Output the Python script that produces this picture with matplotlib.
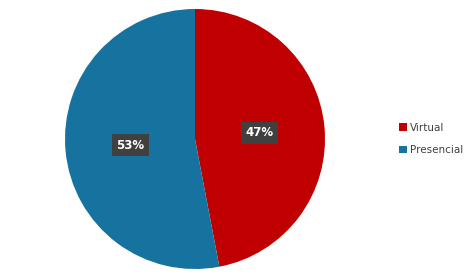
import matplotlib
matplotlib.use("Agg")
import matplotlib.pyplot as plt
from matplotlib.patches import Patch

categories = ["Virtual", "Presencial"]
values = [47, 53]
colors = ["#C00000", "#16729E"]

fig = plt.figure(figsize=(4.69, 2.78), dpi=100)
ax = fig.add_axes([65/469, 9/278, 260/469, 260/278])
wedges, texts = ax.pie(values, colors=colors, startangle=90, counterclock=False,
                       labels=[f"{v}%" for v in values], labeldistance=0.5,
                       wedgeprops=dict(linewidth=0))
for t in texts:
    t.set_color("white")
    t.set_fontsize(8.5)
    t.set_fontweight("bold")
    t.set_ha("center")
    t.set_va("center")
    t.set_bbox(dict(boxstyle="square,pad=0.4", fc="#404040", ec="none"))
ax.set_xlim(-1, 1)
ax.set_ylim(-1, 1)
ax.set_aspect("equal")

handles = [Patch(facecolor=c, edgecolor="none") for c in colors]
leg = fig.legend(handles, categories, loc="center left", bbox_to_anchor=(390/469, 1-139/278),
                 frameon=False, fontsize=7.5, handlelength=0.7, handleheight=0.7,
                 handletextpad=0.3, labelspacing=1.2)
for t in leg.get_texts():
    t.set_color("#404040")

fig.savefig("out.png", dpi=100)
